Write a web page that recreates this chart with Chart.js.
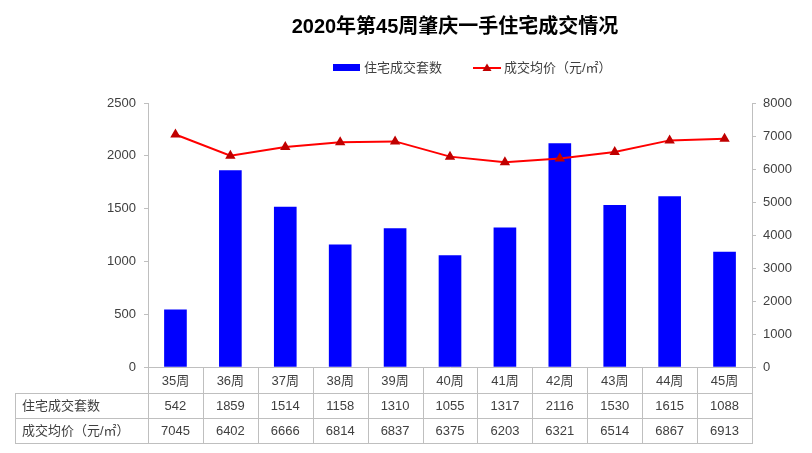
<!DOCTYPE html>
<html><head><meta charset="utf-8">
<script src="https://cdn.jsdelivr.net/npm/chart.js@4/dist/chart.umd.min.js"></script>
<style>html,body{margin:0;padding:0;background:#fff}#wrap{width:812px;height:453px}</style>
</head><body><div id="wrap"><canvas id="c" width="812" height="453"></canvas></div>
<script>
const titleText = '2020年第45周肇庆一手住宅成交情况';
const weeks = ['35周','36周','37周','38周','39周','40周','41周','42周','43周','44周','45周'];
const units = [542,1859,1514,1158,1310,1055,1317,2116,1530,1615,1088];
const prices = [7045,6402,6666,6814,6837,6375,6203,6321,6514,6867,6913];
const unitsLabel = '住宅成交套数';
const priceLabel = '成交均价（元/㎡）';

const FONT = "'Liberation Sans','Noto Sans CJK SC',sans-serif";
const GRID = '#bfbfbf';
const TXT = '#404040';

const extras = {
  id: 'extras',
  afterDraw(chart) {
    const ctx = chart.ctx, a = chart.chartArea, x = chart.scales.x;
    ctx.save();
    ctx.fillStyle = '#000';
    ctx.font = "bold 20px " + FONT;
    ctx.textAlign = 'center'; ctx.textBaseline = 'middle';
    ctx.fillText(titleText, 455, 27);
    ctx.font = "13px " + FONT;
    ctx.textAlign = 'left';
    ctx.fillStyle = '#0000FF';
    ctx.fillRect(333, 64, 27, 7);
    ctx.fillStyle = TXT;
    ctx.fillText(unitsLabel, 364, 68);
    ctx.strokeStyle = '#FF0000'; ctx.lineWidth = 2;
    ctx.beginPath(); ctx.moveTo(473, 68); ctx.lineTo(501, 68); ctx.stroke();
    ctx.fillStyle = '#C00000';
    ctx.beginPath(); ctx.moveTo(487, 63.5); ctx.lineTo(491.5, 71); ctx.lineTo(482.5, 71); ctx.closePath(); ctx.fill();
    ctx.fillStyle = TXT;
    ctx.fillText(priceLabel, 504, 68);
    const n = weeks.length;
    const w = (a.right - a.left) / n;
    const r0 = a.bottom, r1 = 393, r2 = 418, r3 = 443, lx = 15;
    ctx.strokeStyle = GRID; ctx.lineWidth = 1;
    ctx.beginPath();
    for (let i = 0; i <= n; i++) {
      const px = Math.round(a.left + i * w) + 0.5;
      ctx.moveTo(px, r0); ctx.lineTo(px, r3);
    }
    ctx.moveTo(lx + 0.5, r1); ctx.lineTo(lx + 0.5, r3);
    [r1, r2, r3].forEach(y => { ctx.moveTo(lx, y + 0.5); ctx.lineTo(a.right + 1, y + 0.5); });
    ctx.stroke();
    ctx.fillStyle = TXT;
    ctx.font = "13px " + FONT;
    ctx.textAlign = 'center';
    for (let i = 0; i < n; i++) {
      const cx = x.getPixelForValue(i);
      ctx.fillText(weeks[i], cx, (r0 + r1) / 2 + 1);
      ctx.fillText(String(units[i]), cx, (r1 + r2) / 2 + 1);
      ctx.fillText(String(prices[i]), cx, (r2 + r3) / 2 + 1);
    }
    ctx.textAlign = 'left';
    ctx.fillText(unitsLabel, 22, (r1 + r2) / 2 + 1);
    ctx.fillText(priceLabel, 22, (r2 + r3) / 2 + 1);
    ctx.restore();
  }
};

new Chart(document.getElementById('c'), {
  data: {
    labels: weeks,
    datasets: [
      { type: 'line', label: priceLabel, data: prices, yAxisID: 'y1', order: 0,
        borderColor: '#FF0000', borderWidth: 2, pointStyle: 'triangle', pointRadius: 4,
        pointBackgroundColor: '#C00000', pointBorderColor: '#C00000', tension: 0 },
      { type: 'bar', label: unitsLabel, data: units, yAxisID: 'y', order: 1,
        backgroundColor: '#0000FF', barThickness: 22 }
    ]
  },
  options: {
    responsive: false, animation: false,
    layout: { padding: { top: 103, left: 0, right: 0, bottom: 0 } },
    plugins: { legend: { display: false }, title: { display: false }, tooltip: { enabled: false } },
    scales: {
      x: { offset: true, grid: { display: false }, ticks: { display: false },
           border: { color: GRID }, afterFit: s => { s.height = 86; } },
      y: { position: 'left', min: 0, max: 2500,
           ticks: { stepSize: 500, color: TXT, padding: 8, font: { size: 13, family: FONT }, callback: v => String(v) },
           grid: { drawOnChartArea: false, drawTicks: true, tickLength: 4, color: GRID },
           border: { color: GRID }, afterFit: s => { s.width = 148; } },
      y1: { position: 'right', min: 0, max: 8000,
           ticks: { stepSize: 1000, color: TXT, padding: 7, font: { size: 13, family: FONT }, callback: v => String(v) },
           grid: { drawOnChartArea: false, drawTicks: true, tickLength: 4, color: GRID },
           border: { color: GRID }, afterFit: s => { s.width = 60; } }
    }
  },
  plugins: [extras]
});
</script></body></html>
